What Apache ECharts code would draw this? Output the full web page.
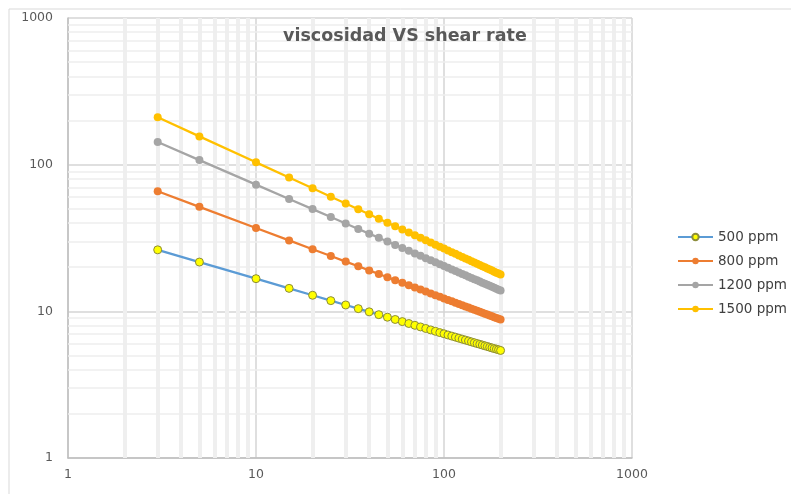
<!DOCTYPE html>
<html>
<head>
<meta charset="utf-8">
<style>
  html, body { margin: 0; padding: 0; background: #ffffff; }
  #chart { width: 791px; height: 494px; }
</style>
<script src="https://cdn.jsdelivr.net/npm/echarts@6/dist/echarts.min.js"></script>
</head>
<body>
<div id="chart"></div>
<script>
// Shear rate (1/s)
const shearRate = [3, 5, 10, 15, 20, 25, 30, 35, 40, 45, 50, 55, 60, 65, 70, 75, 80, 85, 90, 95, 100,
  105, 110, 115, 120, 125, 130, 135, 140, 145, 150, 155, 160, 165, 170, 175, 180, 185, 190, 195, 200];

// Viscosity per polymer concentration
const visc500 = [26.26, 21.67, 16.70, 14.34, 12.87, 11.83, 11.05, 10.43, 9.92, 9.49, 9.12, 8.80, 8.51, 8.26,
  8.03, 7.83, 7.64, 7.47, 7.31, 7.16, 7.03, 6.90, 6.78, 6.67, 6.56, 6.46, 6.37, 6.28, 6.19, 6.11, 6.03,
  5.96, 5.89, 5.82, 5.76, 5.69, 5.63, 5.57, 5.52, 5.47, 5.41];
const visc800 = [65.95, 51.59, 37.00, 30.45, 26.52, 23.84, 21.84, 20.28, 19.02, 17.97, 17.08, 16.32, 15.65,
  15.07, 14.54, 14.07, 13.64, 13.25, 12.89, 12.56, 12.25, 11.97, 11.70, 11.46, 11.22, 11.01, 10.80, 10.61,
  10.43, 10.25, 10.09, 9.93, 9.78, 9.63, 9.50, 9.37, 9.24, 9.12, 9.00, 8.89, 8.78];
const visc1200 = [142.6, 107.4, 73.1, 58.39, 49.76, 43.97, 39.72, 36.47, 33.86, 31.71, 29.92, 28.38, 27.04,
  25.86, 24.83, 23.89, 23.05, 22.29, 21.59, 20.96, 20.37, 19.82, 19.32, 18.85, 18.41, 17.99, 17.61, 17.24,
  16.90, 16.57, 16.26, 15.97, 15.69, 15.43, 15.17, 14.93, 14.70, 14.47, 14.26, 14.06, 13.86];
const visc1500 = [210.6, 155.9, 103.7, 81.71, 69.01, 60.50, 54.36, 49.64, 45.90, 42.83, 40.25, 38.05, 36.16,
  34.50, 33.03, 31.71, 30.53, 29.46, 28.49, 27.60, 26.78, 26.02, 25.32, 24.67, 24.06, 23.49, 22.95, 22.45,
  21.98, 21.53, 21.10, 20.70, 20.32, 19.95, 19.60, 19.27, 18.95, 18.65, 18.36, 18.08, 17.81];

const seriesNames = ['500 ppm', '800 ppm', '1200 ppm', '1500 ppm'];

// Minor log gridline positions (2..9 in each decade)
const minorX = [2, 3, 4, 5, 6, 7, 8, 9, 20, 30, 40, 50, 60, 70, 80, 90, 200, 300, 400, 500, 600, 700, 800, 900];
const minorY = [2, 3, 4, 5, 6, 7, 8, 9, 20, 30, 40, 50, 60, 70, 80, 90, 200, 300, 400, 500, 600, 700, 800, 900];

const pairs = (ys) => shearRate.map((x, i) => [x, ys[i]]);

const chart = echarts.init(document.getElementById('chart'), null, { renderer: 'canvas' });

const font = '"DejaVu Sans", "Open Sans", sans-serif';

function dataSeries(name, ys, lineColor, fill, border) {
  return {
    name: name,
    type: 'line',
    data: pairs(ys),
    z: 3,
    symbol: 'circle',
    symbolSize: 8,
    showSymbol: true,
    lineStyle: { color: lineColor, width: 2.25 },
    itemStyle: { color: fill, borderColor: border, borderWidth: border === fill ? 0 : 1 },
    emphasis: { disabled: true },
    animation: false
  };
}

chart.setOption({
  animation: false,
  backgroundColor: '#ffffff',
  graphic: [{
    type: 'rect',
    shape: { x: 9, y: 9, width: 800, height: 500 },
    style: { fill: 'none', stroke: '#d9d9d9', lineWidth: 1 },
    z: -1
  }],
  title: {
    text: 'viscosidad VS shear rate',
    left: 278,
    top: 22,
    textStyle: { fontFamily: font, fontSize: 17.5, fontWeight: 'bold', color: '#595959' }
  },
  legend: {
    data: seriesNames,
    orient: 'vertical',
    left: 672,
    top: 225,
    itemWidth: 35,
    itemHeight: 8,
    itemGap: 10,
    textStyle: { fontFamily: font, fontSize: 13.5, color: '#404040' }
  },
  grid: { left: 68, right: 159, top: 18, bottom: 36, containLabel: false },
  xAxis: {
    type: 'log',
    logBase: 10,
    min: 1,
    max: 1000,
    axisLine: { lineStyle: { color: '#bfbfbf', width: 1.5 } },
    axisTick: { show: false },
    axisLabel: { fontFamily: font, fontSize: 12.5, color: '#595959', margin: 10, formatter: v => String(v) },
    splitLine: { show: true, lineStyle: { color: '#d4d4d4', width: 1.5 } }
  },
  yAxis: {
    type: 'log',
    logBase: 10,
    min: 1,
    max: 1000,
    axisLine: { show: true, lineStyle: { color: '#bfbfbf', width: 1.5 } },
    axisTick: { show: false },
    axisLabel: { fontFamily: font, fontSize: 12.5, color: '#595959', margin: 15, formatter: v => String(v) },
    splitLine: { show: true, lineStyle: { color: '#d4d4d4', width: 1.5 } }
  },
  series: [
    {
      name: 'minor grid',
      type: 'line',
      data: [],
      silent: true,
      markLine: {
        silent: true,
        z: 1,
        symbol: 'none',
        animation: false,
        label: { show: false },
        data: minorX.map(v => ({ xAxis: v, lineStyle: { color: '#efefef', width: 4, type: 'solid' } }))
          .concat(minorY.map(v => ({ yAxis: v, lineStyle: { color: '#eeeeee', width: 1.5, type: 'solid' } })))
      }
    },
    dataSeries('500 ppm', visc500, '#5B9BD5', '#FFFF00', '#8c8c3a'),
    dataSeries('800 ppm', visc800, '#ED7D31', '#ED7D31', '#ED7D31'),
    dataSeries('1200 ppm', visc1200, '#A5A5A5', '#A5A5A5', '#A5A5A5'),
    dataSeries('1500 ppm', visc1500, '#FFC000', '#FFC000', '#FFC000')
  ]
});
</script>
</body>
</html>
